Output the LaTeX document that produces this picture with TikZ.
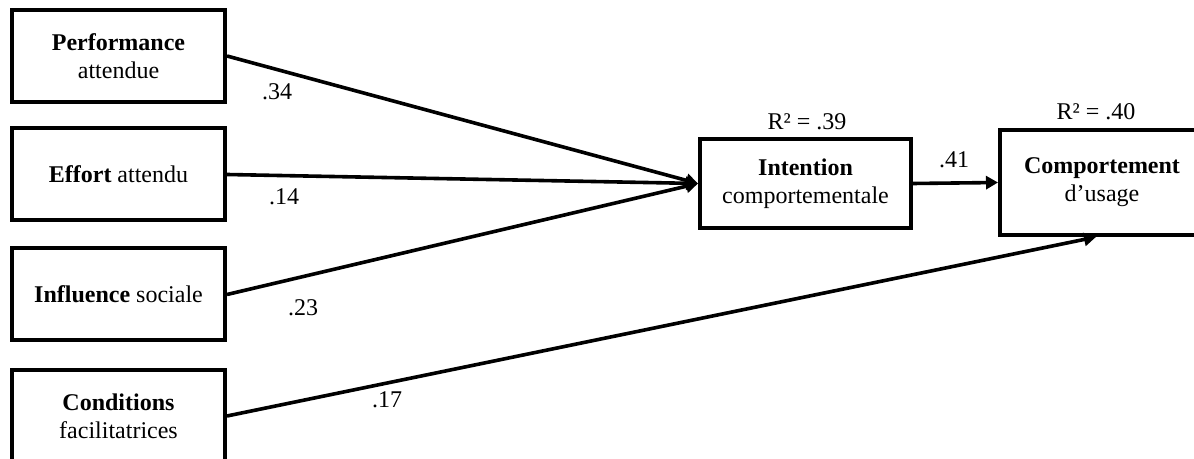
\documentclass[tikz,border=0pt]{standalone}
\usepackage{fontspec}
\setmainfont{Liberation Serif}
\usetikzlibrary{arrows.meta}

\tikzset{
  var/.style={draw, line width=2pt, minimum width=106.5pt, minimum height=46pt,
    align=center, inner sep=2pt, font=\fontsize{12}{14}\selectfont},
  link/.style={line width=1.8pt, -{Triangle[length=6pt, width=6.5pt]}},
  coef/.style={inner sep=0pt, font=\fontsize{12}{14}\selectfont}
}

\begin{document}
\begin{tikzpicture}[x=0.5pt, y=-0.5pt]
        \useasboundingbox (0,0) rectangle (1194,459);

        % predictors
        \node[var] (perf) at (118.5,56) {\textbf{Performance}\\attendue};
        \node[var] (eff) at (118.5,174.5) {\textbf{Effort} attendu};
        \node[var] (infl) at (118.5,294.5) {\textbf{Influence} sociale};
        \node[var] (cond) at (118.5,416) {\textbf{Conditions}\\facilitatrices};

        % outcomes
        \node[var, minimum width=105.5pt, minimum height=44.5pt] (int) at (805.5,183.5) {\textbf{Intention}\\comportementale};
        \node[var, minimum width=102pt, minimum height=52.5pt] (comp) at (1102,182.5) {\textbf{Comportement}\\d’usage};

        \draw[link] (perf.east) -- (int.west);
        \draw[link] (eff.east) -- (int.west);
        \draw[link] (infl.east) -- (int.west);
        \draw[link] (int.east) -- (comp.west);
        \draw[link] (cond.east) -- ([xshift=-3pt]comp.south);

        % coefficients
        \node[coef] (c34) at (277,92) {.34};
        \node[coef] (c14) at (284,197) {.14};
        \node[coef] (c23) at (303,308) {.23};
        \node[coef] (c17) at (387,400) {.17};
        \node[coef] (c41) at (954,160) {.41};
        \node[coef] (r39) at (807,122) {R² = .39};
        \node[coef] (r40) at (1096,112) {R² = .40};

    \end{tikzpicture}
\end{document}
